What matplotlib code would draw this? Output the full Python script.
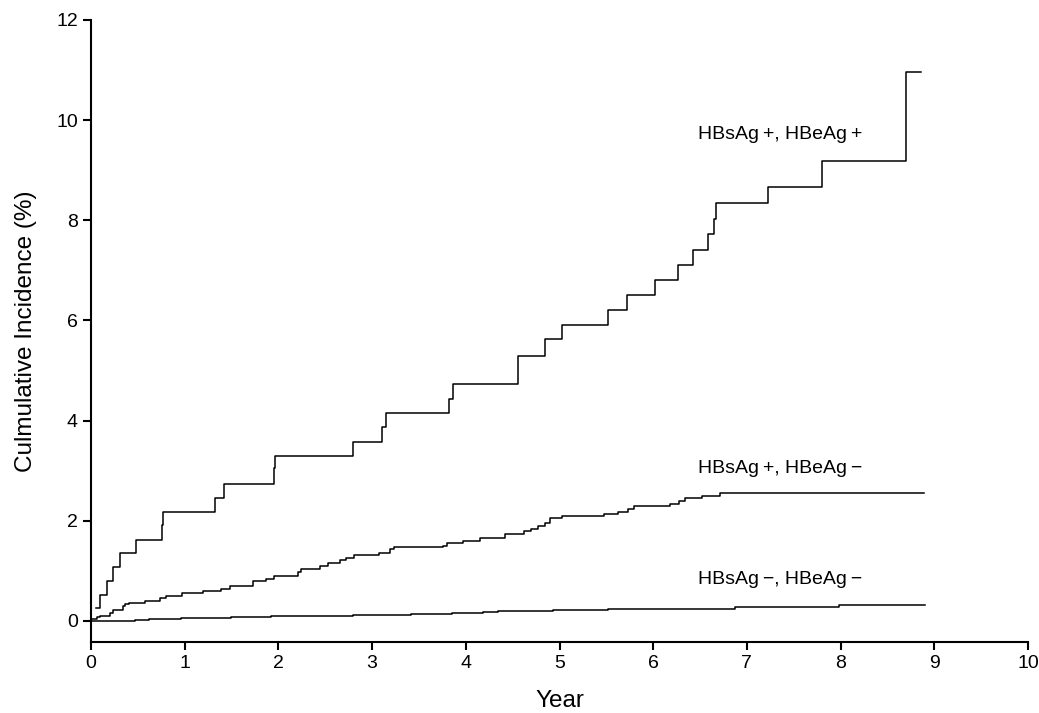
import matplotlib
matplotlib.use("Agg")
import matplotlib.pyplot as plt

plt.rcParams['font.family'] = ['Liberation Sans', 'DejaVu Sans']

# step curves: event times (years) and cumulative incidence (%) after each step
t_pos_pos = [0.05, 0.10, 0.17, 0.23, 0.31, 0.48, 0.755, 0.77, 1.32, 1.42, 1.95, 1.96,
             2.80, 3.11, 3.15, 3.82, 3.86, 4.56, 4.84, 5.03, 5.52, 5.72, 6.02, 6.26,
             6.42, 6.58, 6.65, 6.67, 7.22, 7.80, 8.70, 8.86]
y_pos_pos = [0.25, 0.52, 0.79, 1.08, 1.35, 1.61, 1.91, 2.17, 2.45, 2.73, 3.05, 3.30,
             3.58, 3.87, 4.16, 4.44, 4.73, 5.30, 5.62, 5.91, 6.20, 6.51, 6.80, 7.11,
             7.41, 7.72, 8.02, 8.34, 8.66, 9.18, 10.96, 10.96]

t_pos_neg = [0.0, 0.06, 0.10, 0.20, 0.23, 0.34, 0.36, 0.41, 0.58, 0.74, 0.80, 0.97,
             1.19, 1.39, 1.48, 1.73, 1.87, 1.95, 2.21, 2.24, 2.44, 2.53, 2.66, 2.72,
             2.81, 3.07, 3.19, 3.23, 3.76, 3.80, 3.97, 4.15, 4.42, 4.62, 4.70, 4.77,
             4.84, 4.90, 5.03, 5.47, 5.62, 5.73, 5.79, 6.18, 6.28, 6.34, 6.52, 6.71, 8.89]
y_pos_neg = [0.04, 0.07, 0.10, 0.15, 0.22, 0.29, 0.34, 0.36, 0.39, 0.45, 0.50, 0.55,
             0.59, 0.64, 0.70, 0.79, 0.83, 0.89, 0.98, 1.04, 1.10, 1.16, 1.21, 1.26,
             1.32, 1.36, 1.44, 1.47, 1.50, 1.55, 1.60, 1.66, 1.73, 1.79, 1.84, 1.89,
             1.95, 2.05, 2.10, 2.14, 2.18, 2.24, 2.30, 2.34, 2.40, 2.45, 2.50, 2.56, 2.56]

t_neg_neg = [0.0, 0.47, 0.62, 0.96, 1.49, 1.92, 2.80, 3.42, 3.85, 4.18, 4.34, 4.93,
             5.52, 6.87, 7.98, 8.90]
y_neg_neg = [0.0, 0.01, 0.03, 0.05, 0.07, 0.09, 0.11, 0.13, 0.16, 0.18, 0.19, 0.21,
             0.24, 0.28, 0.32, 0.32]

labels = ['HBsAg\u2009+, HBeAg\u2009+', 'HBsAg\u2009+, HBeAg\u2009\u2212',
          'HBsAg\u2009\u2212, HBeAg\u2009\u2212']
label_pos = [(6.48, 9.72), (6.48, 3.05), (6.48, 0.82)]

x_ticks = list(range(0, 11))
y_ticks = [0, 2, 4, 6, 8, 10, 12]

fig = plt.figure(figsize=(10.39, 7.13), dpi=100)
ax = fig.add_axes([0.0876, 0.0996, 0.9018, 0.8724])

for t, y in [(t_pos_pos, y_pos_pos), (t_pos_neg, y_pos_neg), (t_neg_neg, y_neg_neg)]:
    ax.step(t, y, where='post', color='black', linewidth=1.1)

for lab, (x, y) in zip(labels, label_pos):
    ax.text(x, y, lab, fontsize=14, ha='left', va='center')

ax.set_xlim(0, 10)
ax.set_ylim(-0.42, 12)
ax.set_xticks(x_ticks)
ax.set_yticks(y_ticks)
ax.tick_params(labelsize=14, width=1.5, length=6, direction='out')

for side in ['top', 'right']:
    ax.spines[side].set_visible(False)
for side in ['left', 'bottom']:
    ax.spines[side].set_linewidth(1.5)

ax.set_xlabel('Year', fontsize=17.5, labelpad=12.5)
ax.set_ylabel('Culmulative Incidence (%)', fontsize=17.5, labelpad=14)

fig.savefig('out.png', dpi=100)
